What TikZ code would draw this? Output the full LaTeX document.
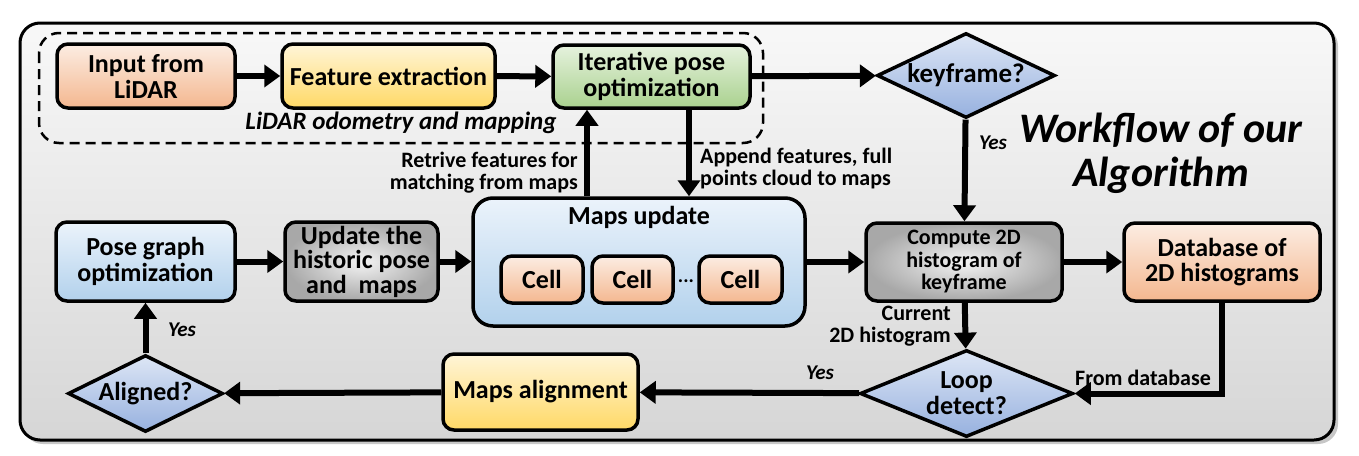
\documentclass[tikz,border=0pt]{standalone}
\usepackage{fontspec}
\setmainfont{Carlito}
\usetikzlibrary{arrows.meta,shapes.geometric,shadings}
\definecolor{orT}{HTML}{FCEDE3}
\definecolor{orB}{HTML}{F4B78F}
\definecolor{yeT}{HTML}{FFF5D8}
\definecolor{yeB}{HTML}{FFD966}
\definecolor{grT}{HTML}{E6F2DE}
\definecolor{grB}{HTML}{A9D18E}
\definecolor{blT}{HTML}{EBF3FB}
\definecolor{blB}{HTML}{B2D1EC}
\definecolor{dmT}{HTML}{DDE6F5}
\definecolor{dmB}{HTML}{97B1DF}
\definecolor{gyI}{HTML}{F4F4F4}
\definecolor{gyO}{HTML}{A8A8A8}
\definecolor{frT}{HTML}{F8F8F8}
\definecolor{frB}{HTML}{D6D6D6}
\begin{document}
\begin{tikzpicture}[x=1pt,y=-1pt,
  box/.style={draw, line width=3.5pt, rounded corners=11pt, align=center, inner sep=0pt,
    font=\bfseries\fontsize{26}{26}\selectfont},
  orbox/.style={box, top color=orT, bottom color=orB},
  yebox/.style={box, top color=yeT, bottom color=yeB},
  grbox/.style={box, top color=grT, bottom color=grB},
  blbox/.style={box, top color=blT, bottom color=blB},
  gybox/.style={box, inner color=gyI, outer color=gyO},
  dia/.style={draw, line width=3.5pt, diamond, inner sep=-5pt, align=center, aspect=2.2,
    top color=dmT, bottom color=dmB, font=\bfseries\fontsize{26}{26}\selectfont},
  arr/.style={line width=6pt, -{Triangle[width=22pt,length=16pt]}},
  lbl/.style={font=\bfseries\fontsize{22}{22}\selectfont, align=left, inner sep=0pt},
  yes/.style={font=\bfseries\itshape\fontsize{21}{21}\selectfont, inner sep=0pt}
]
\useasboundingbox (0,0) rectangle (1359,455);
% frame
\fill[black!22, rounded corners=20pt] (23,26) rectangle (1338,444);
\shade[top color=frT, bottom color=frB, rounded corners=20pt, draw=black, line width=3pt]
  (20,23) rectangle (1334,440);
% dashed group
\draw[dashed, line width=2.5pt, dash pattern=on 10pt off 6pt, rounded corners=20pt]
  (39,33) rectangle (763,143);
\node[font=\bfseries\itshape\fontsize{25}{25}\selectfont, inner sep=0pt] (lom) at (401,123) {LiDAR odometry and mapping};

% nodes
\node[orbox, minimum width=178pt, minimum height=64pt] (in) at (146,76) {Input from\\LiDAR};
\node[yebox, minimum width=213pt, minimum height=64pt] (fe) at (388.5,76) {Feature extraction};
\node[grbox, minimum width=197pt, minimum height=63pt] (ip) at (651.5,76.5) {Iterative pose\\optimization};
\node[dia, minimum width=178pt, minimum height=85pt, font=\bfseries\fontsize{27}{27}\selectfont] (kf) at (966,75.5) {keyframe?};

\node[blbox, rounded corners=20pt, minimum width=332pt, minimum height=128pt] (mu) at (639,262) {};
\node[font=\bfseries\fontsize{26}{26}\selectfont, inner sep=0pt] (mut) at (639,217) {Maps update};
\node[orbox, minimum width=82pt, minimum height=47pt] (c1) at (542,279.5) {Cell};
\node[orbox, minimum width=81pt, minimum height=47pt] (c2) at (632.5,279.5) {Cell};
\node[orbox, minimum width=83pt, minimum height=47pt] (c3) at (740.5,279.5) {Cell};
\node[font=\bfseries\fontsize{20}{20}\selectfont, inner sep=0pt] (dots) at (686,281) {...};

\node[gybox, minimum width=196pt, minimum height=78pt, font=\bfseries\fontsize{22}{22.5}\selectfont] (cp) at (964,262) {Compute 2D\\histogram of\\keyframe};
\node[orbox, minimum width=196pt, minimum height=78pt, font=\bfseries\fontsize{26}{25}\selectfont] (db) at (1222,262) {Database of\\2D histograms};

\node[blbox, minimum width=179pt, minimum height=79pt] (pg) at (145.5,261.5) {Pose graph\\optimization};
\node[gybox, minimum width=153pt, minimum height=79pt, font=\bfseries\fontsize{26}{24.5}\selectfont] (uh) at (361.5,261.5) {Update the\\historic pose\\and~ maps};

\node[dia, minimum width=213pt, minimum height=87pt] (ld) at (966.5,393.5) {Loop\\detect?};
\node[yebox, minimum width=195pt, minimum height=76pt] (ma) at (540.5,392) {Maps alignment};
\node[dia, minimum width=155pt, minimum height=77pt, aspect=2] (al) at (145.5,393.5) {Aligned?};

\node[font=\bfseries\itshape\fontsize{42}{44}\selectfont, align=center, inner sep=0pt] (ttl) at (1161,153) {Workflow of our\\Algorithm};

% connectors
\coordinate (retx) at (587,0);
\coordinate (appx) at (689,0);
\draw[arr] (in) -- (fe);
\draw[arr] (fe) -- (ip);
\draw[arr] (ip) -- (kf);
\draw[arr] (kf) -- (cp);
\node[yes] (y1) at (993,143) {Yes};
\draw[arr] (mu.north -| retx) -- (ip.south -| retx);
\draw[arr] (ip.south -| appx) -- (mu.north -| appx);
\node[lbl, anchor=east, align=right] (rl) at (578,173) {Retrive features for\\matching from maps};
\node[lbl, anchor=west] (al1) at (700,169) {Append features, full\\points cloud to maps};
\draw[arr] (mu) -- (cp);
\draw[arr] (cp) -- (db);
\draw[arr] (pg) -- (uh);
\draw[arr] (uh.east) -- (uh.east -| mu.west);
\draw[arr] (cp) -- (ld);
\node[lbl, anchor=east, align=right] (cl) at (951,326) {Current\\2D histogram};
\draw[arr] (db.south) |- (ld.east);
\node[lbl] (fl) at (1143,378) {From database};
\draw[arr] (ld) -- (ma);
\node[yes] (y2) at (820,373) {Yes};
\draw[arr] (ma) -- (al);
\draw[arr] (al) -- (pg);
\node[yes] (y3) at (182,330) {Yes};
\end{tikzpicture}
\end{document}
